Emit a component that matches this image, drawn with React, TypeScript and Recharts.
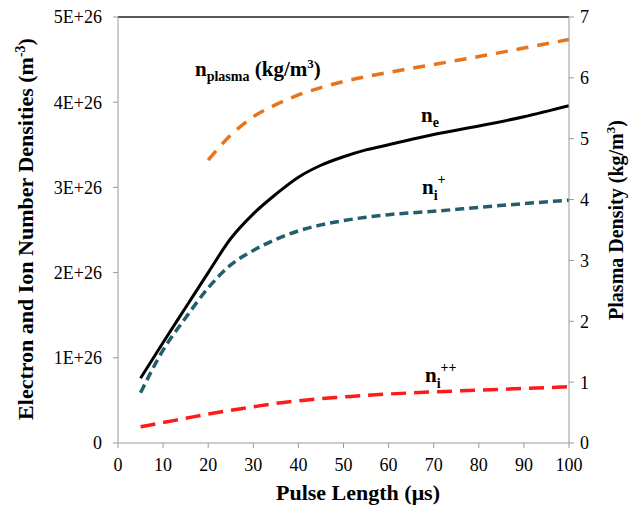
import { LineChart, Line, XAxis, YAxis, ReferenceLine } from 'recharts';

// pulse length (µs) sample points
const pulse = [5, 10, 15, 20, 25, 30, 35, 40, 45, 50, 55, 60, 70, 80, 90, 100];
// number densities in units of 1E+26 m^-3
const ne = [0.76, 1.18, 1.59, 2.0, 2.4, 2.69, 2.92, 3.12, 3.26, 3.36, 3.44, 3.5, 3.62, 3.72, 3.83, 3.96];
const niPlus = [0.59, 1.09, 1.47, 1.82, 2.09, 2.26, 2.39, 2.49, 2.56, 2.61, 2.65, 2.68, 2.72, 2.765, 2.81, 2.85];
const niPlusPlus = [0.19, 0.24, 0.29, 0.34, 0.385, 0.425, 0.465, 0.495, 0.52, 0.54, 0.56, 0.575, 0.6, 0.62, 0.64, 0.66];

// plasma density (kg/m^3), starts at 20 µs
const pulsePlasma = [20, 25, 30, 35, 40, 45, 50, 55, 60, 70, 80, 90, 100];
const plasma = [4.65, 5.06, 5.36, 5.56, 5.72, 5.84, 5.94, 6.02, 6.09, 6.22, 6.35, 6.49, 6.63];

const xTicks = [0, 10, 20, 30, 40, 50, 60, 70, 80, 90, 100];
const leftTicks = [0, 1, 2, 3, 4, 5].map((v) => v * 1e26);
const rightTicks = [0, 1, 2, 3, 4, 5, 6, 7];
const xMinor = Array.from({ length: 51 }, (_, i) => i * 2);
const leftMinor = Array.from({ length: 26 }, (_, i) => i * 0.2e26);

const densityData = pulse.map((x, i) => ({
  x,
  ne: ne[i] * 1e26,
  niPlus: niPlus[i] * 1e26,
  niPlusPlus: niPlusPlus[i] * 1e26,
}));
const plasmaData = pulsePlasma.map((x, i) => ({ x, plasma: plasma[i] }));

const FONT = 'Liberation Serif';
const AXIS = '#9a9a9a';
const tickStyle = { fontSize: 18, fill: '#000', fontFamily: FONT };

function fmtLeft(v: number) {
  if (v === 0) return '0';
  return `${Math.round(v / 1e26)}E+26`;
}

export default function App() {
  return (
    <div style={{ position: 'relative', width: 630, height: 509, fontFamily: FONT }}>
      <style>{'body{margin:0}'}</style>
      <LineChart width={630} height={509} margin={{ top: 17, right: 0, bottom: 0, left: 0 }}>
        <XAxis
          dataKey="x"
          type="number"
          domain={[0, 100]}
          ticks={xTicks}
          height={66}
          tick={tickStyle}
          tickSize={5}
          tickMargin={10}
          stroke={AXIS}
          allowDataOverflow
        />
        <XAxis
          xAxisId="minor"
          dataKey="x"
          type="number"
          domain={[0, 100]}
          ticks={xMinor}
          mirror
          axisLine={false}
          tick={false}
          tickSize={5}
          stroke={AXIS}
        />
        <YAxis
          yAxisId="left"
          type="number"
          domain={[0, 5e26]}
          ticks={leftTicks}
          width={118}
          tick={tickStyle}
          tickFormatter={fmtLeft}
          tickSize={5}
          tickMargin={11}
          stroke={AXIS}
          allowDataOverflow
        />
        <YAxis
          yAxisId="minor"
          type="number"
          domain={[0, 5e26]}
          ticks={leftMinor}
          mirror
          axisLine={false}
          tick={false}
          tickSize={5}
          stroke={AXIS}
        />
        <YAxis
          yAxisId="right"
          orientation="right"
          type="number"
          domain={[0, 7]}
          ticks={rightTicks}
          width={61}
          tick={tickStyle}
          tickSize={5}
          tickMargin={6}
          stroke={AXIS}
          allowDataOverflow
        />
        <ReferenceLine yAxisId="left" y={5e26} stroke="#222" strokeWidth={1.5} />
        <Line
          yAxisId="left"
          data={densityData}
          dataKey="ne"
          type="monotone"
          stroke="#000"
          strokeWidth={3}
          dot={false}
          isAnimationActive={false}
        />
        <Line
          yAxisId="left"
          data={densityData}
          dataKey="niPlus"
          type="monotone"
          stroke="#225e6c"
          strokeWidth={3.5}
          strokeDasharray="9 5"
          dot={false}
          isAnimationActive={false}
        />
        <Line
          yAxisId="left"
          data={densityData}
          dataKey="niPlusPlus"
          type="monotone"
          stroke="#ff1a1a"
          strokeWidth={3.5}
          strokeDasharray="15 8"
          dot={false}
          isAnimationActive={false}
        />
        <Line
          yAxisId="right"
          data={plasmaData}
          dataKey="plasma"
          type="monotone"
          stroke="#e8731a"
          strokeWidth={3.5}
          strokeDasharray="12 9"
          dot={false}
          isAnimationActive={false}
        />
      </LineChart>

      <svg
        width={630}
        height={509}
        style={{ position: 'absolute', left: 0, top: 0, pointerEvents: 'none' }}
        fontFamily={FONT}
        fontWeight="bold"
        fill="#000"
      >
        <text transform="translate(33,229) rotate(-90)" textAnchor="middle" fontSize={22}>
          Electron and Ion Number Densities (m
          <tspan dy={-8} fontSize={14}>-3</tspan>
          <tspan dy={8}>)</tspan>
        </text>
        <text transform="translate(623,220) rotate(-90)" textAnchor="middle" fontSize={20}>
          Plasma Density (kg/m
          <tspan dy={-8} fontSize={13}>3</tspan>
          <tspan dy={8}>)</tspan>
        </text>
        <text x={358} y={500} textAnchor="middle" fontSize={22}>
          Pulse Length (μs)
        </text>

        <text x={195} y={76} fontSize={21}>
          n<tspan dy={5} fontSize={14}>plasma</tspan>
          <tspan dy={-5}> (kg/m</tspan>
          <tspan dy={-8} fontSize={13}>3</tspan>
          <tspan dy={8}>)</tspan>
        </text>
        <text x={421} y={122} fontSize={21}>
          n<tspan dy={5} fontSize={14}>e</tspan>
        </text>
        <text x={422} y={194} fontSize={21}>
          n<tspan dy={6} fontSize={14}>i</tspan>
          <tspan dy={-16} fontSize={14}>+</tspan>
        </text>
        <text x={425} y={382} fontSize={21}>
          n<tspan dy={6} fontSize={14}>i</tspan>
          <tspan dy={-16} fontSize={14}>++</tspan>
        </text>
      </svg>
    </div>
  );
}
